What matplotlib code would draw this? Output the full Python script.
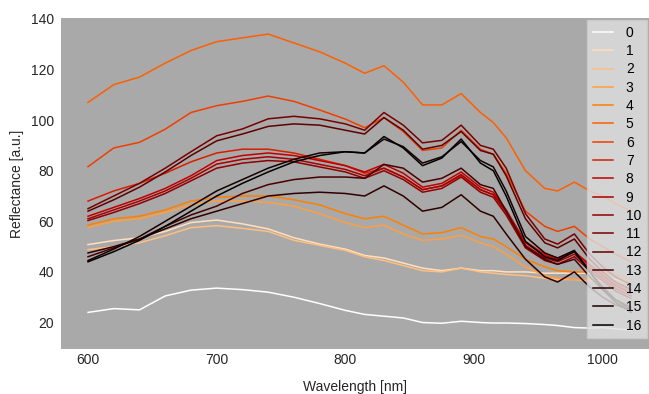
"""
Reflectance spectra, 17 samples, coloured along gist_heat_r.
"""

import numpy as np
import matplotlib
matplotlib.use('Agg')
import matplotlib.pyplot as plt

plt.rcParams['font.family'] = ['Liberation Sans', 'DejaVu Sans']

# wavelength grid the values were read at
wavelength = [600, 620, 640, 660, 680, 700, 720, 740, 760, 780, 800, 815, 830, 845,
              860, 875, 890, 905, 915, 925, 940, 955, 965, 978, 990, 1000, 1010, 1022]

s0 = [24, 25.5, 25, 30.5, 32.8, 33.6, 33, 32, 30, 27.5, 24.8, 23.2, 22.5, 21.8,
      20, 19.7, 20.5, 20, 19.8, 19.8, 19.6, 19.2, 18.8, 18, 17.8, 18, 17.5, 17]
s1 = [50.8, 52.4, 53.5, 56, 59.5, 60.5, 59, 57, 53.5, 51, 49, 46.5, 45.5, 43.5,
      41.5, 40.5, 41.5, 40.5, 40.5, 40, 40, 39.5, 39.5, 39.5, 39.5, 39, 37, 35]
s2 = [48.8, 50, 51.5, 54.3, 57.5, 58.3, 57.2, 56, 52.5, 50.5, 48.5, 46, 44.5, 42.5,
      40.5, 40, 41.5, 40, 39.5, 39, 38.5, 37.5, 37, 37, 36.5, 36.5, 36, 35]
s3 = [57.5, 60, 61, 63.5, 66.5, 68, 68, 67.5, 66, 63, 59.5, 57.5, 58.5, 55,
      52.5, 53, 54.5, 51.5, 50, 47, 42, 38.5, 37.5, 37, 37, 37.5, 36.5, 35]
s4 = [58.5, 61, 62, 64.5, 68, 69.5, 70, 70, 68.5, 66.5, 63, 61, 62, 58.5,
      55, 55.5, 57.5, 54, 53, 50, 45, 42, 40.5, 40, 40, 40, 39, 37]
s5 = [107, 114, 117, 122.5, 127.5, 131, 132.5, 134, 130.5, 127, 122.5, 118.5, 121.5, 115,
      106, 106, 110.5, 103, 99, 93, 80, 73, 72, 75.5, 72, 70, 67, 64]
s6 = [81.6, 89, 91.2, 96.4, 103, 105.7, 107.4, 109.5, 107.4, 104, 100.4, 97, 101, 95.5,
      88, 89, 96, 88.5, 86.5, 79, 64, 58, 56, 58, 53, 50, 47, 44]
s7 = [68, 72, 75, 79, 83.5, 87, 88.5, 88.5, 87, 84.5, 82, 79, 81, 77.5,
      72.5, 74, 78, 72.5, 70.5, 64, 52, 47, 45.5, 48, 43, 39, 35, 32]
s8 = [62, 65.5, 69, 73, 78, 84, 86, 87, 86, 84, 82, 79.5, 82.5, 79,
      73.5, 75, 79.5, 73.5, 71.5, 64.5, 51.5, 46.5, 45, 48, 42.5, 38.5, 34.5, 31.5]
s9 = [61, 64.5, 68, 72, 77, 82.6, 84.5, 85.5, 84.5, 82.5, 80.5, 78, 81, 77.5,
      72.5, 74, 78.5, 72.5, 70.5, 63.5, 50.5, 45.5, 44, 47, 41.5, 37.5, 33.5, 30.5]
s10 = [60.3, 63.5, 67, 71, 76, 81, 83, 84, 83.5, 81.5, 79.5, 77, 80, 76.5,
       71.5, 73, 77.5, 71.5, 69.5, 62.5, 49.5, 44.5, 43, 46, 40.5, 36.5, 32.5, 29.5]
s11 = [65, 70, 75, 81, 87.5, 93.8, 96.5, 100.5, 101.5, 100.5, 98.5, 96, 103, 98,
       91, 92, 98, 90, 88.5, 81, 63, 53, 51, 55, 47, 42, 38, 35]
s12 = [64, 68.5, 73.5, 79.5, 86, 91.8, 94.5, 97.5, 98.5, 98, 96, 94.5, 101, 96,
       88.5, 90, 95.5, 88, 86.5, 78, 61, 51.5, 49.5, 53, 45, 40, 36, 33]
s13 = [46, 49.5, 53, 58, 62.5, 66, 71, 74.5, 76.5, 77.5, 77.5, 77, 82.5, 81,
       75.5, 77, 81, 74.5, 73, 64, 50, 45, 43, 45, 38, 33, 29, 26]
s14 = [47.5, 50, 53, 57, 61, 64, 67, 70, 71, 71.5, 71, 70, 74, 70,
       64, 65.5, 70.5, 64, 62, 55, 45, 38, 36, 40, 34, 30, 27, 25]
s15 = [44.5, 49, 54, 60, 66, 72, 76.5, 81, 84.5, 87, 87.5, 87, 92.5, 89.5,
       83, 85.5, 91.5, 84, 81.5, 72, 54, 47.5, 45.5, 48.5, 40, 34, 29, 25]
s16 = [44, 48, 52.5, 58, 64, 70, 75, 79.5, 83.5, 86, 87.5, 87, 93.5, 89,
       82, 85, 92.5, 83, 80, 70, 52, 46, 44.5, 48, 40, 33, 28, 24]

spectra = [s0, s1, s2, s3, s4, s5, s6, s7, s8, s9, s10, s11, s12, s13, s14, s15, s16]
labels = [str(i) for i in range(len(spectra))]

fig = plt.figure(figsize=(6.49, 3.94), dpi=100)
ax = fig.add_axes([0.094, 0.114, 0.906, 0.840])
ax.set_facecolor('#a9a9a9')

colors = plt.cm.gist_heat_r(np.linspace(0, 1, len(spectra)))
for spec, lab, col in zip(spectra, labels, colors):
    ax.plot(wavelength, spec, color=col, linewidth=1.1, label=lab)

ax.set_xlim(579, 1036)
ax.set_ylim(9.5, 140.3)
ax.set_xticks([600, 700, 800, 900, 1000])
ax.set_yticks([20, 40, 60, 80, 100, 120, 140])
for side in ax.spines.values():
    side.set_visible(False)
ax.tick_params(length=0, labelsize=10, labelcolor='#262626')
ax.tick_params(axis='x', pad=3)
ax.tick_params(axis='y', pad=5)

ax.set_xlabel('Wavelength [nm]', fontsize=10, color='#262626', labelpad=9)
ax.set_ylabel('Reflectance [a.u.]', fontsize=10, color='#262626', labelpad=5)

ax.legend(loc='upper right', fontsize=10, facecolor='#e0e0e0', framealpha=0.8,
          edgecolor='#cccccc', handlelength=1.5, handletextpad=0.9,
          labelspacing=0.31, borderaxespad=0.15, fancybox=False)

fig.savefig('out.png', dpi=100)
